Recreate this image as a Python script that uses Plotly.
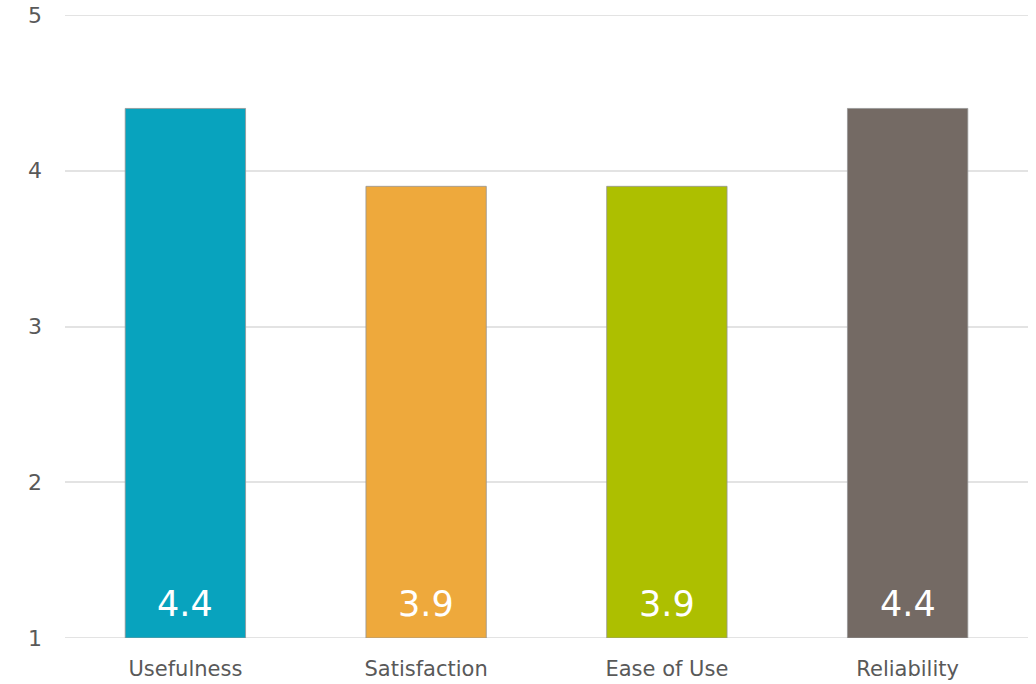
import plotly.graph_objects as go

categories = ["Usefulness", "Satisfaction", "Ease of Use", "Reliability"]
scores = [4.4, 3.9, 3.9, 4.4]
bar_colors = ["#08A3BE", "#EEA93C", "#ADBF00", "#746A64"]
y_ticks = [1, 2, 3, 4, 5]

FONT = "'DejaVu Sans', sans-serif"
GRID = "#E3E3E3"

fig = go.Figure(
    go.Bar(
        x=categories,
        y=[s - 1 for s in scores],
        base=1,
        width=0.5,
        marker=dict(color=bar_colors, line=dict(color="rgba(150,150,150,0.8)", width=1)),
        hoverinfo="skip",
    )
)

# value labels sit near the foot of each bar
for cat, s in zip(categories, scores):
    fig.add_annotation(
        x=cat, y=y_ticks[0], text=f"{s:.1f}", showarrow=False,
        yanchor="bottom", yshift=12,
        font=dict(family=FONT, size=35, color="white"),
    )

# gridlines at the range ends are drawn explicitly
for v in (y_ticks[0], y_ticks[-1]):
    fig.add_hline(y=v, line=dict(color=GRID, width=2), layer="below")

fig.update_layout(
    width=1036,
    height=684,
    margin=dict(l=65, r=8, t=15, b=46),
    paper_bgcolor="white",
    plot_bgcolor="white",
    showlegend=False,
    font=dict(family=FONT, color="#595959"),
)
fig.update_xaxes(
    showgrid=False,
    showline=False,
    ticks="",
    automargin=False,
    tickfont=dict(size=21, color="#595959"),
    ticklabelstandoff=16,
)
fig.update_yaxes(
    range=[y_ticks[0], y_ticks[-1]],
    tickvals=y_ticks,
    showgrid=True,
    gridcolor=GRID,
    gridwidth=2,
    zeroline=False,
    showline=False,
    ticks="",
    automargin=False,
    tickfont=dict(size=22, color="#595959"),
    ticklabelstandoff=22,
)

fig.write_html("out.html")
